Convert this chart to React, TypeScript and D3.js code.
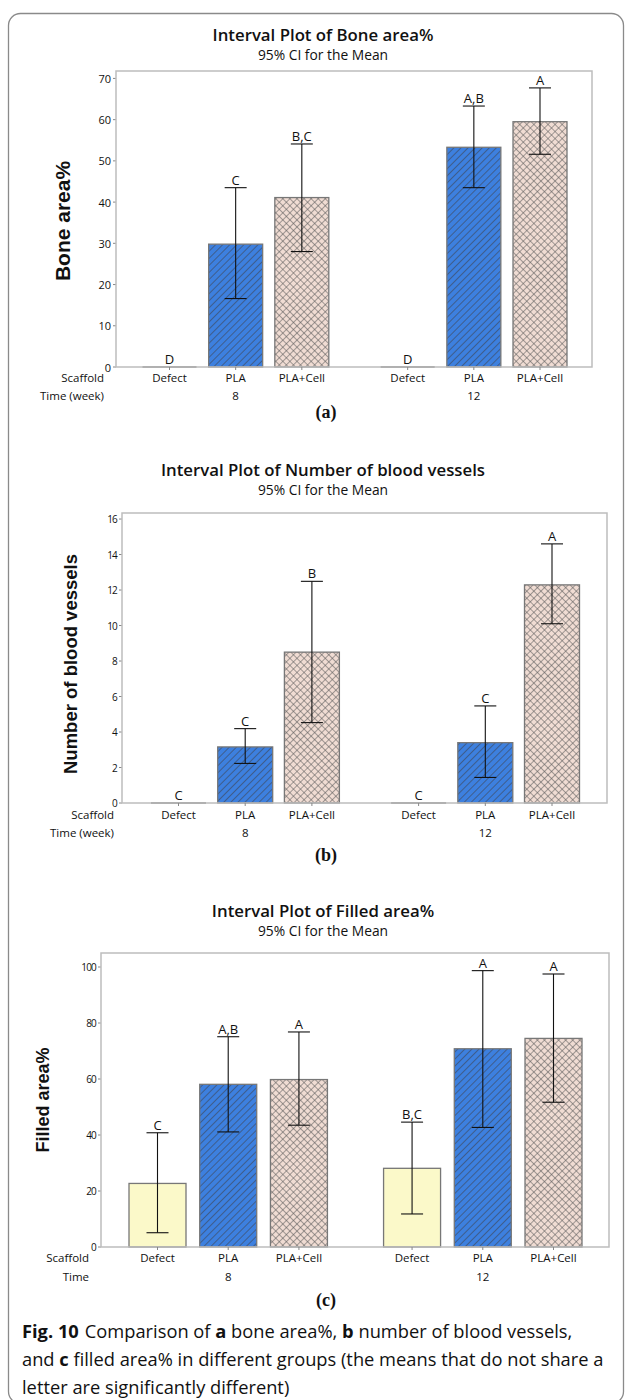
import React from "react";
import * as d3 from "d3";

const scaffolds = ["Defect", "PLA", "PLA+Cell"];
const times = ["8", "12"];

const boneMean = [0, 29.8, 41.1, 0, 53.3, 59.5];
const boneLower = [0, 16.6, 28.0, 0, 43.5, 51.6];
const boneUpper = [0, 43.5, 54.1, 0, 63.3, 67.7];
const boneLetters = ["D", "C", "B,C", "D", "A,B", "A"];
const boneTicks = [0, 10, 20, 30, 40, 50, 60, 70];

const vesselMean = [0, 3.16, 8.5, 0, 3.4, 12.29];
const vesselLower = [0, 2.23, 4.53, 0, 1.44, 10.1];
const vesselUpper = [0, 4.19, 12.49, 0, 5.47, 14.6];
const vesselLetters = ["C", "C", "B", "C", "C", "A"];
const vesselTicks = [0, 2, 4, 6, 8, 10, 12, 14, 16];

const filledMean = [22.7, 58.1, 59.8, 28.1, 70.8, 74.5];
const filledLower = [5.1, 41.1, 43.5, 11.8, 42.7, 51.7];
const filledUpper = [40.8, 75.1, 76.8, 44.6, 98.7, 97.5];
const filledLetters = ["C", "A,B", "A", "B,C", "A", "A"];
const filledTicks = [0, 20, 40, 60, 80, 100];

const FILLS: Record<string, string> = {
  Defect: "#fbf9c9",
  PLA: "url(#hatch)",
  "PLA+Cell": "url(#cross)",
};

type PanelProps = {
  title: string;
  yLabel: string;
  timeLabel: string;
  tag: string;
  mean: number[];
  lower: number[];
  upper: number[];
  letters: string[];
  ticks: number[];
  yMax: number;
  frame: { l: number; r: number; t: number; b: number };
  centers: [number, number];
  barW: number;
  titleY: number;
  titleX: number;
  yLabelX: number;
  yLabelDy: number;
  rowLabelX: number;
  catY: number;
  timeY: number;
  tagY: number;
  tickFont: number;
  tickSpacing: number;
  yLabelSize: number;
};

const SANS = "'Open Sans', sans-serif";

function Panel(p: PanelProps) {
  const y = d3.scaleLinear().domain([0, p.yMax]).range([p.frame.b, p.frame.t]);
  const groupOffset = 3.6;
  const x = d3
    .scaleLinear()
    .domain([0, groupOffset + 2])
    .range(p.centers);
  const items = times.flatMap((t, gi) =>
    scaffolds.map((s, ci) => ({
      time: t,
      scaffold: s,
      idx: gi * 3 + ci,
      cx: x(gi * groupOffset + ci),
    }))
  );
  const capW = 22;
  return (
    <g>
      <text
        x={p.titleX}
        y={p.titleY}
        textAnchor="middle"
        fontFamily={SANS}
        fontWeight={600}
        fontSize={16.8}
        fill="#111"
      >
        {p.title}
      </text>
      <text
        x={p.titleX}
        y={p.titleY + 19}
        textAnchor="middle"
        fontFamily={SANS}
        fontSize={13.8}
        fill="#111"
      >
        95% CI for the Mean
      </text>
      <text
        transform={`translate(${p.yLabelX},${(p.frame.t + p.frame.b) / 2 + p.yLabelDy}) rotate(-90)`}
        textAnchor="middle"
        dominantBaseline="central"
        fontFamily="'Liberation Sans', Arial, sans-serif"
        fontWeight="bold"
        fontSize={p.yLabelSize}
        fill="#111"
      >
        {p.yLabel}
      </text>
      {p.ticks.map((t) => (
        <g key={t}>
          <line
            x1={p.frame.l - 3}
            x2={p.frame.l}
            y1={y(t)}
            y2={y(t)}
            stroke="#888"
            strokeWidth={1}
          />
          <text
            x={p.frame.l - 5}
            y={y(t)}
            textAnchor="end"
            dominantBaseline="central"
            fontFamily={SANS}
            fontSize={p.tickFont}
            letterSpacing={p.tickSpacing}
            fill="#111"
          >
            {t}
          </text>
        </g>
      ))}
      {items.map((it) => {
        const v = p.mean[it.idx];
        const x0 = it.cx - p.barW / 2;
        if (v === 0) {
          return (
            <line
              key={it.idx}
              x1={x0}
              x2={x0 + p.barW}
              y1={y(0)}
              y2={y(0)}
              stroke="#666"
              strokeWidth={1.5}
            />
          );
        }
        return (
          <rect
            key={it.idx}
            x={x0}
            y={y(v)}
            width={p.barW}
            height={y(0) - y(v)}
            fill={FILLS[it.scaffold]}
            stroke="#777"
            strokeWidth={1.3}
          />
        );
      })}
      <rect
        x={p.frame.l}
        y={p.frame.t}
        width={p.frame.r - p.frame.l}
        height={p.frame.b - p.frame.t}
        fill="none"
        stroke="#bdbdbd"
        strokeWidth={1.5}
      />
      {items.map((it) => (
        <line
          key={"xt" + it.idx}
          x1={it.cx}
          x2={it.cx}
          y1={p.frame.b}
          y2={p.frame.b + 3}
          stroke="#888"
        />
      ))}
      {items.map((it) => {
        const lo = p.lower[it.idx];
        const hi = p.upper[it.idx];
        if (lo === hi) return null;
        return (
          <g key={"e" + it.idx} stroke="#111" strokeWidth={1.1}>
            <line x1={it.cx} x2={it.cx} y1={y(lo)} y2={y(hi)} />
            <line x1={it.cx - capW / 2} x2={it.cx + capW / 2} y1={y(lo)} y2={y(lo)} />
            <line x1={it.cx - capW / 2} x2={it.cx + capW / 2} y1={y(hi)} y2={y(hi)} />
          </g>
        );
      })}
      {items.map((it) => (
        <text
          key={"l" + it.idx}
          x={it.cx}
          y={y(p.upper[it.idx]) - 3}
          textAnchor="middle"
          fontFamily={SANS}
          fontSize={13}
          fill="#111"
        >
          {p.letters[it.idx]}
        </text>
      ))}
      <text
        x={p.rowLabelX}
        y={p.catY}
        textAnchor="end"
        fontFamily={SANS}
        fontSize={11.5}
        fill="#111"
      >
        Scaffold
      </text>
      <text
        x={p.rowLabelX}
        y={p.timeY}
        textAnchor="end"
        fontFamily={SANS}
        fontSize={11.5}
        fill="#111"
      >
        {p.timeLabel}
      </text>
      {items.map((it) => (
        <text
          key={"c" + it.idx}
          x={it.cx}
          y={p.catY}
          textAnchor="middle"
          fontFamily={SANS}
          fontSize={11.5}
          fill="#111"
        >
          {it.scaffold}
        </text>
      ))}
      {times.map((t, gi) => (
        <text
          key={"t" + t}
          x={x(gi * groupOffset + 1)}
          y={p.timeY}
          textAnchor="middle"
          fontFamily={SANS}
          fontSize={11.5}
          fill="#111"
        >
          {t}
        </text>
      ))}
      <text
        x={326}
        y={p.tagY}
        textAnchor="middle"
        fontFamily="'Liberation Serif', 'Times New Roman', serif"
        fontWeight="bold"
        fontSize={18}
        fill="#111"
      >
        {p.tag}
      </text>
    </g>
  );
}

export default function App() {
  return (
    <svg
      width={629}
      height={1400}
      style={{ position: "absolute", left: 0, top: 0, background: "#fff" }}
    >
      <defs>
        <pattern
          id="hatch"
          patternUnits="userSpaceOnUse"
          width={5}
          height={5}
          patternTransform="rotate(45)"
        >
          <rect width={5} height={5} fill="#3d80df" />
          <line x1={0} y1={0} x2={0} y2={5} stroke="#3f3f46" strokeWidth={1.1} />
        </pattern>
        <pattern
          id="cross"
          patternUnits="userSpaceOnUse"
          width={5}
          height={5}
          patternTransform="rotate(45)"
        >
          <rect width={5} height={5} fill="#f0dcd3" />
          <line x1={0} y1={0} x2={0} y2={5} stroke="#5a5a5a" strokeWidth={1.1} />
          <line x1={0} y1={0} x2={5} y2={0} stroke="#5a5a5a" strokeWidth={1.1} />
        </pattern>
      </defs>
      <rect
        x={8.5}
        y={13.5}
        width={615}
        height={1390}
        rx={12}
        fill="none"
        stroke="#8a8a8a"
        strokeWidth={1.3}
      />
      <Panel
        title="Interval Plot of Bone area%"
        yLabel="Bone area%"
        timeLabel="Time (week)"
        tag="(a)"
        mean={boneMean}
        lower={boneLower}
        upper={boneUpper}
        letters={boneLetters}
        ticks={boneTicks}
        yMax={71.8}
        frame={{ l: 116, r: 592, t: 71, b: 367 }}
        centers={[169.5, 540]}
        barW={54}
        titleY={41}
        titleX={323}
        yLabelX={62}
        yLabelDy={2}
        rowLabelX={104}
        catY={382}
        timeY={400}
        tagY={418}
        tickFont={11}
        tickSpacing={0}
        yLabelSize={21}
      />
      <Panel
        title="Interval Plot of Number of blood vessels"
        yLabel="Number of blood vessels"
        timeLabel="Time (week)"
        tag="(b)"
        mean={vesselMean}
        lower={vesselLower}
        upper={vesselUpper}
        letters={vesselLetters}
        ticks={vesselTicks}
        yMax={16.34}
        frame={{ l: 122, r: 607, t: 513, b: 803 }}
        centers={[178.5, 552]}
        barW={55}
        titleY={476}
        titleX={323}
        yLabelX={70}
        yLabelDy={6}
        rowLabelX={114}
        catY={819}
        timeY={837}
        tagY={861}
        tickFont={10}
        tickSpacing={-0.8}
        yLabelSize={18.5}
      />
      <Panel
        title="Interval Plot of Filled area%"
        yLabel="Filled area%"
        timeLabel="Time"
        tag="(c)"
        mean={filledMean}
        lower={filledLower}
        upper={filledUpper}
        letters={filledLetters}
        ticks={filledTicks}
        yMax={105}
        frame={{ l: 101, r: 609, t: 953, b: 1247 }}
        centers={[157.5, 553.5]}
        barW={57}
        titleY={917}
        titleX={323}
        yLabelX={43}
        yLabelDy={0}
        rowLabelX={89}
        catY={1262}
        timeY={1281}
        tagY={1306}
        tickFont={10}
        tickSpacing={-0.8}
        yLabelSize={18}
      />
      <g fontFamily={SANS} fontSize={18.3} fill="#111">
        <text x={22} y={1338}>
          <tspan fontWeight="bold">Fig. 10</tspan>
          <tspan dx={6}>Comparison of </tspan>
          <tspan fontWeight="bold">a</tspan>
          <tspan> bone area%, </tspan>
          <tspan fontWeight="bold">b</tspan>
          <tspan> number of blood vessels,</tspan>
        </text>
        <text x={22} y={1366}>
          <tspan>and </tspan>
          <tspan fontWeight="bold">c</tspan>
          <tspan> filled area% in different groups (the means that do not share a</tspan>
        </text>
        <text x={22} y={1394}>
          letter are significantly different)
        </text>
      </g>
    </svg>
  );
}
